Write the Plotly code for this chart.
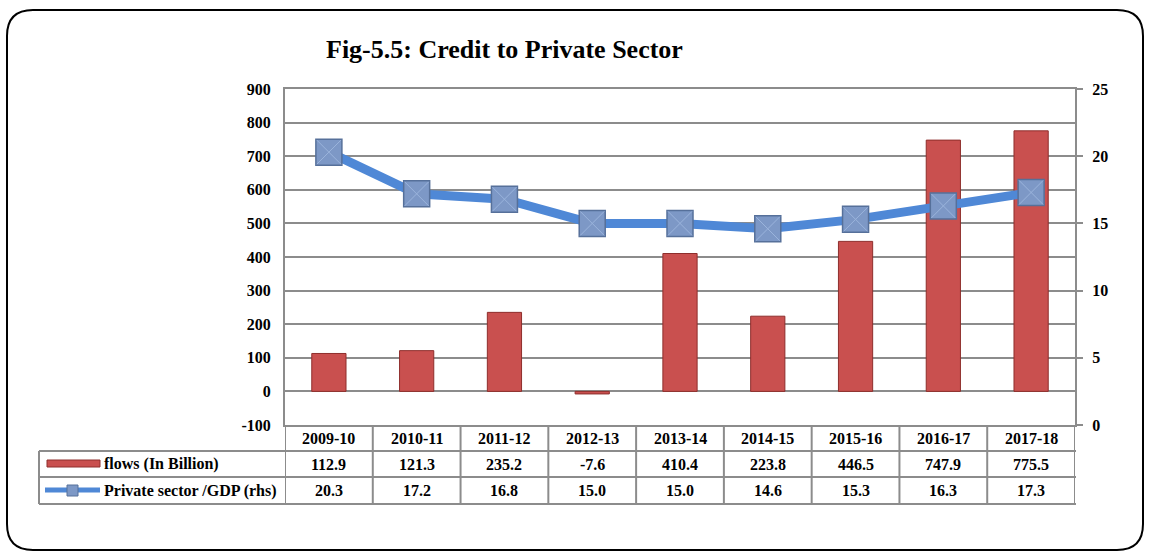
import plotly.graph_objects as go

# ---------------- data ----------------
years = ["2009-10", "2010-11", "2011-12", "2012-13", "2013-14",
         "2014-15", "2015-16", "2016-17", "2017-18"]
flows = [112.9, 121.3, 235.2, -7.6, 410.4, 223.8, 446.5, 747.9, 775.5]
gdp_ratio = [20.3, 17.2, 16.8, 15.0, 15.0, 14.6, 15.3, 16.3, 17.3]
left_ticks = [-100, 0, 100, 200, 300, 400, 500, 600, 700, 800, 900]
right_ticks = [0, 5, 10, 15, 20, 25]
flows_label = "flows (In Billion)"
ratio_label = "Private sector /GDP (rhs)"
title_text = "Fig-5.5: Credit to Private Sector"

# ---------------- layout geometry (pixels) ----------------
W, H = 1151, 552
L, R, T, B = 285, 1075, 89, 425   # plot area edges in pixels


def px(xp):
    return (xp - L) / (R - L)


def py(yp):
    return (B - yp) / (B - T)


FONT = "Liberation Serif"
GRID = "#8c8c8c"
BAR = "#c9504f"
BAR_EDGE = "#8e2e2c"
LINE = "#4f88d6"
MK = "#7d98c6"
MK_EDGE = "#56709a"
MK_HI = "#9bb4dc"

xs = list(range(len(years)))

fig = go.Figure()
fig.add_trace(go.Bar(
    x=xs, y=flows, name=flows_label, width=0.39,
    marker=dict(color=BAR, line=dict(color=BAR_EDGE, width=1)),
    yaxis="y",
))
fig.add_trace(go.Scatter(
    x=xs, y=gdp_ratio, name=ratio_label, mode="lines+markers",
    line=dict(color=LINE, width=9),
    marker=dict(symbol="square", size=26, color=MK,
                line=dict(color=MK_EDGE, width=1.5)),
    yaxis="y2",
))
fig.add_trace(go.Scatter(
    x=xs, y=gdp_ratio, mode="markers", hoverinfo="skip",
    marker=dict(symbol="x-thin", size=24, color=MK_HI,
                line=dict(color=MK_HI, width=1)),
    yaxis="y2",
))

shapes = []
# table lines
row_ys = [451, 477, 504]
for yy in row_ys:
    shapes.append(dict(type="line", xref="paper", yref="paper",
                       x0=px(39), x1=px(1076), y0=py(yy), y1=py(yy),
                       line=dict(color=GRID, width=2)))
for k in range(len(years) + 1):
    shapes.append(dict(type="line", xref="x", yref="paper",
                       x0=k - 0.5, x1=k - 0.5, y0=py(425), y1=py(504),
                       line=dict(color=GRID, width=2)))
shapes.append(dict(type="line", xref="paper", yref="paper",
                   x0=px(39), x1=px(39), y0=py(451), y1=py(504),
                   line=dict(color=GRID, width=2)))
# legend keys
shapes.append(dict(type="rect", xref="paper", yref="paper",
                   x0=px(47), x1=px(100), y0=py(467), y1=py(460),
                   fillcolor=BAR, line=dict(color=BAR_EDGE, width=1)))
shapes.append(dict(type="line", xref="paper", yref="paper",
                   x0=px(45), x1=px(100), y0=py(490), y1=py(490),
                   line=dict(color=LINE, width=5)))
shapes.append(dict(type="rect", xref="paper", yref="paper",
                   x0=px(67), x1=px(78), y0=py(496), y1=py(485),
                   fillcolor=MK, line=dict(color=MK_EDGE, width=1)))

# rounded outer border
x0, x1, y0, y1, r = 7, 1143, 10, 550, 26


def P(a, b):
    return f"{px(a):.5f},{py(b):.5f}"


path = (f"M {P(x0 + r, y0)} L {P(x1 - r, y0)} Q {P(x1, y0)} {P(x1, y0 + r)} "
        f"L {P(x1, y1 - r)} Q {P(x1, y1)} {P(x1 - r, y1)} "
        f"L {P(x0 + r, y1)} Q {P(x0, y1)} {P(x0, y1 - r)} "
        f"L {P(x0, y0 + r)} Q {P(x0, y0)} {P(x0 + r, y0)} Z")
shapes.append(dict(type="path", xref="paper", yref="paper", path=path,
                   line=dict(color="black", width=2), layer="below"))

annotations = []
tfont = dict(family=FONT, size=16, color="black", weight="bold")
for i in xs:
    annotations.append(dict(x=i, y=py(438), xref="x", yref="paper",
                            text=years[i], showarrow=False,
                            font=tfont, xanchor="center", yanchor="middle"))
    annotations.append(dict(x=i, y=py(464), xref="x", yref="paper",
                            text=f"{flows[i]:.1f}", showarrow=False,
                            font=tfont, xanchor="center", yanchor="middle"))
    annotations.append(dict(x=i, y=py(490.5), xref="x", yref="paper",
                            text=f"{gdp_ratio[i]:.1f}", showarrow=False,
                            font=tfont, xanchor="center", yanchor="middle"))
annotations.append(dict(x=px(102), y=py(464), xref="paper", yref="paper",
                        text=flows_label, showarrow=False, font=tfont,
                        xanchor="left", yanchor="middle"))
annotations.append(dict(x=px(102), y=py(490.5), xref="paper", yref="paper",
                        text=ratio_label, showarrow=False, font=tfont,
                        xanchor="left", yanchor="middle"))
annotations.append(dict(x=px(504), y=py(50), xref="paper", yref="paper",
                        text=title_text, showarrow=False,
                        font=dict(family=FONT, size=26, color="black",
                                  weight="bold"),
                        xanchor="center", yanchor="middle"))

fig.update_layout(
    width=W, height=H,
    margin=dict(l=L, r=W - R, t=T, b=H - B, pad=0),
    paper_bgcolor="white", plot_bgcolor="white",
    showlegend=False,
    font=dict(family=FONT, size=16, color="black"),
    xaxis=dict(
        tickmode="array", tickvals=xs, ticktext=years,
        range=[-0.5, len(years) - 0.5],
        showgrid=False, zeroline=False, ticks="", showticklabels=False,
        showline=True, linecolor=GRID, linewidth=2, mirror=True,
    ),
    yaxis=dict(
        range=[-100, 900], tickmode="array", tickvals=left_ticks,
        ticktext=[str(v) for v in left_ticks],
        showgrid=True, gridcolor=GRID, gridwidth=1.5,
        zeroline=False, showline=True, linecolor=GRID, linewidth=2,
        ticks="", ticklabelstandoff=9,
        tickfont=dict(family=FONT, size=16, color="black", weight="bold"),
    ),
    yaxis2=dict(
        range=[0, 25], tickmode="array", tickvals=right_ticks,
        ticktext=[str(v) for v in right_ticks],
        overlaying="y", side="right",
        showgrid=False, zeroline=False, showline=True, linecolor=GRID,
        linewidth=2, ticks="outside", ticklen=6, tickcolor=GRID, tickwidth=1.5,
        ticklabelstandoff=6,
        tickfont=dict(family=FONT, size=16, color="black", weight="bold"),
    ),
    shapes=shapes,
    annotations=annotations,
)

fig.write_html("out.html", config={"displayModeBar": False},
               post_script="document.body.style.margin='0';")
